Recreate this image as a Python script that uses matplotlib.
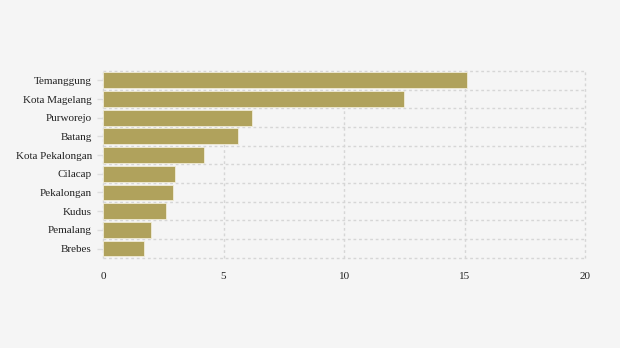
import matplotlib.pyplot as plt
import numpy as np

plt.rcParams['font.family'] = ['Liberation Serif', 'DejaVu Serif']

regions = ['Temanggung', 'Kota Magelang', 'Purworejo', 'Batang', 'Kota Pekalongan',
           'Cilacap', 'Pekalongan', 'Kudus', 'Pemalang', 'Brebes']
values = [15.1, 12.5, 6.2, 5.6, 4.2, 3.0, 2.9, 2.6, 2.0, 1.7]
xticks = [0, 5, 10, 15, 20]

bg = '#f5f5f5'
fig = plt.figure(figsize=(6.2, 3.48), dpi=100, facecolor=bg)
ax = fig.add_axes([0.166, 0.259, 0.778, 0.537], facecolor=bg)

pos = np.arange(len(regions))
ax.barh(pos, values, height=0.85, color='#b0a25c', edgecolor='#f0ecd8', linewidth=0.6, zorder=3)

ax.set_xlim(0, 20)
ax.set_ylim(len(regions) - 0.5, -0.5)
ax.set_xticks(xticks)
ax.set_xticklabels([str(t) for t in xticks])
ax.set_yticks(pos)
ax.set_yticklabels(regions)

# gridlines: vertical at ticks, horizontal between categories
for t in xticks:
    ax.axvline(t, color='#d6d6d6', lw=1, ls=(0, (2, 2)), zorder=1, clip_on=False)
for e in np.arange(-0.5, len(regions), 1.0):
    ax.axhline(e, color='#d6d6d6', lw=1, ls=(0, (2, 2)), zorder=1, clip_on=False)

for s in ax.spines.values():
    s.set_visible(False)
ax.tick_params(axis='y', length=4, width=1, color='#dddddd', labelsize=8, labelcolor='#222222', pad=4)
ax.tick_params(axis='x', length=0, labelsize=8, labelcolor='#222222', pad=10)

fig.savefig('out.png', dpi=100, facecolor=bg)
